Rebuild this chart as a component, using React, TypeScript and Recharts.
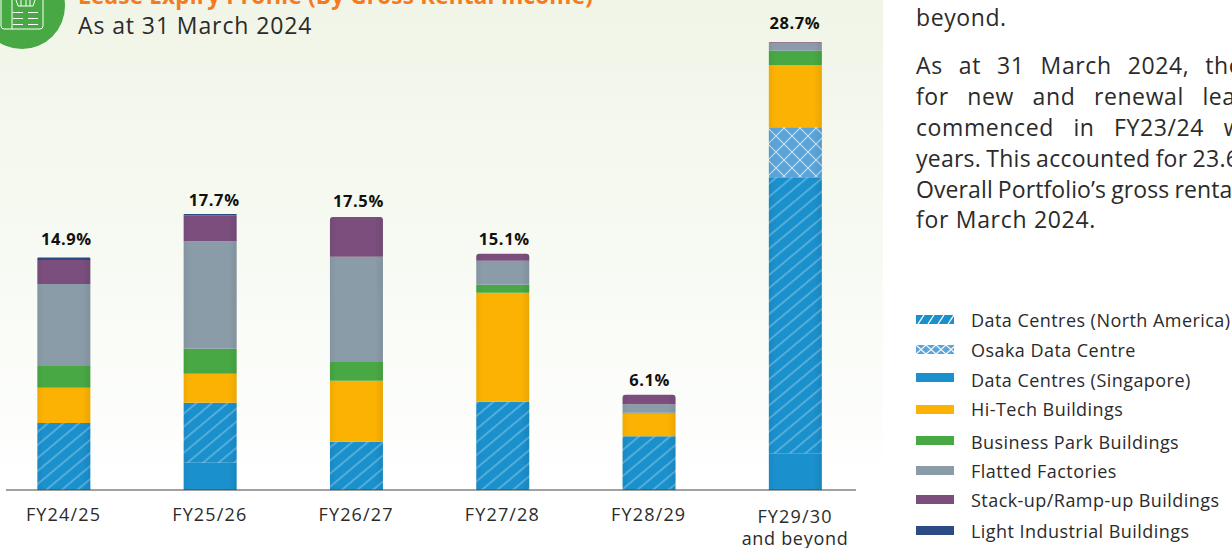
import React from "react";
import { BarChart, Bar, XAxis, YAxis, Rectangle, Legend } from "recharts";

const categories = ["FY24/25", "FY25/26", "FY26/27", "FY27/28", "FY28/29", "FY29/30"];
const totals = [14.9, 17.7, 17.5, 15.1, 6.1, 28.7];
const singapore = [0, 1.75, 0, 0, 0, 2.35];
const northAmerica = [4.3, 3.85, 3.1, 5.65, 3.45, 17.7];
const osaka = [0, 0, 0, 0, 0, 3.2];
const hiTech = [2.25, 1.85, 3.9, 7.0, 1.45, 4.0];
const businessPark = [1.4, 1.6, 1.2, 0.5, 0.05, 0.9];
const flatted = [5.25, 6.9, 6.75, 1.55, 0.55, 0.5];
const stackUp = [1.55, 1.65, 2.55, 0.45, 0.6, 0.05];
const lightIndustrial = [0.15, 0.1, 0, 0, 0, 0];

const labelGap = [12.5, 7.5, 9.5, 8.5, 8.5, 13.5];
const labelShift = [2.5, 4, 2, 1.5, 0.5, -0.5];

const seriesDefs = [
  { key: "singapore", values: singapore, fill: "#1a90cd", legend: "Data Centres (Singapore)", swatch: "#1a90cd" },
  { key: "northAmerica", values: northAmerica, fill: "url(#hatch)", legend: "Data Centres (North America)", swatch: "url(#hatchSw)" },
  { key: "osaka", values: osaka, fill: "url(#cross)", legend: "Osaka Data Centre", swatch: "url(#crossSw)" },
  { key: "hiTech", values: hiTech, fill: "#fbb202", legend: "Hi-Tech Buildings", swatch: "#fbb202" },
  { key: "businessPark", values: businessPark, fill: "#48a843", legend: "Business Park Buildings", swatch: "#48a843" },
  { key: "flatted", values: flatted, fill: "#8a9ca8", legend: "Flatted Factories", swatch: "#8a9ca8" },
  { key: "stackUp", values: stackUp, fill: "#7b4e7d", legend: "Stack-up/Ramp-up Buildings", swatch: "#7b4e7d" },
  { key: "lightIndustrial", values: lightIndustrial, fill: "#2c4a83", legend: "Light Industrial Buildings", swatch: "#2c4a83" },
];

const legendOrder = ["northAmerica", "osaka", "singapore", "hiTech", "businessPark", "flatted", "stackUp", "lightIndustrial"];
const legendTextY = [320, 350, 380, 409, 442, 471, 500, 531];
const legendSwatchY = [319.5, 349.5, 377.5, 409, 440, 470.5, 499, 530];

const paragraph = [
  { text: "As at 31 March 2024, the", y: 74, spacing: 0.6, word: 9.5 },
  { text: "for new and renewal leas", y: 105, spacing: 0.6, word: 12 },
  { text: "commenced in FY23/24 w", y: 136, spacing: 0.6, word: 13 },
  { text: "years. This accounted for 23.6", y: 167, spacing: 0.25, word: -1 },
  { text: "Overall Portfolio\u2019s gross renta", y: 198, spacing: 0.1, word: -1 },
  { text: "for March 2024.", y: 228, spacing: 0.7, word: 0 },
];

const data = categories.map((name, i) => {
  const row: any = { name, total: totals[i], gap: labelGap[i], shift: labelShift[i] };
  seriesDefs.forEach((s) => (row[s.key] = s.values[i]));
  return row;
});

const FONT = "'Open Sans', sans-serif";

const topKeyOf = (row: any) => {
  let top = "";
  seriesDefs.forEach((s) => {
    if (row[s.key] > 0) top = s.key;
  });
  return top;
};

const segment = (key: string, fill: string) => (props: any) => {
  const { x, y, width, height, payload } = props;
  if (!height || height <= 0) return <g />;
  const isTop = topKeyOf(payload) === key;
  const r: any = isTop ? [Math.min(3, height), Math.min(3, height), 0, 0] : 0;
  return (
    <g>
      <Rectangle x={x} y={y} width={width} height={height} fill={fill} radius={r} />
      <Rectangle x={x} y={y} width={width} height={height} fill="url(#edge)" radius={r} />
      {isTop && (
        <text x={x + width / 2 + payload.shift} y={y - payload.gap} textAnchor="middle" fontFamily={FONT} fontSize={16.5} fontWeight={700} letterSpacing={0.6} fill="#111">
          {payload.total.toFixed(1)}%
        </text>
      )}
    </g>
  );
};

const TwoLineTick = (props: any) => {
  const { x, payload } = props;
  const last = payload.value === "FY29/30";
  return (
    <g fontFamily={FONT} fontSize={18} fill="#2b2b2b" textAnchor="middle">
      <text x={x} y={last ? 523 : 521} letterSpacing={1.15}>{payload.value}</text>
      {last && <text x={x} y={544.5} letterSpacing={0.7}>and beyond</text>}
    </g>
  );
};

const LegendBox = () => (
  <div style={{ position: "absolute", left: 0, top: 0 }}>
    {legendOrder.map((k, i) => {
      const s = seriesDefs.find((d) => d.key === k)!;
      return (
        <React.Fragment key={k}>
          <svg width={38} height={9} style={{ position: "absolute", left: 916, top: legendSwatchY[i] - 4.5 }}>
            <rect width={38} height={9} fill={s.swatch} />
          </svg>
          <span style={{ position: "absolute", left: 971, top: legendTextY[i] - 13, lineHeight: "26px", whiteSpace: "nowrap", fontFamily: FONT, fontSize: 18, letterSpacing: 0.45, color: "#2b2b2b" }}>{s.legend}</span>
        </React.Fragment>
      );
    })}
  </div>
);

export default function App() {
  return (
    <div style={{ position: "absolute", left: 0, top: 0, width: 1232, height: 548, overflow: "hidden", background: "#fff" }}>
      <BarChart width={1232} height={548} data={data} margin={{ top: 0, left: 6, right: 376, bottom: 28 }} barSize={53}>
        <defs>
          <linearGradient id="bg" x1="0" y1="0" x2="0" y2="1">
            <stop offset="0" stopColor="#f1f5e7" />
            <stop offset="0.4" stopColor="#f5f9f0" />
            <stop offset="1" stopColor="#ffffff" />
          </linearGradient>
          <linearGradient id="edge" x1="0" y1="0" x2="1" y2="0">
            <stop offset="0" stopColor="#000" stopOpacity="0.05" />
            <stop offset="0.12" stopColor="#000" stopOpacity="0" />
            <stop offset="0.85" stopColor="#000" stopOpacity="0" />
            <stop offset="1" stopColor="#000" stopOpacity="0.07" />
          </linearGradient>
          <pattern id="hatch" width="10" height="10" patternUnits="userSpaceOnUse" patternTransform="rotate(-40)">
            <rect width="10" height="10" fill="#1a90cd" />
            <path d="M0 5 H10" stroke="#9ccfeb" strokeWidth="0.9" />
          </pattern>
          <pattern id="cross" width="16" height="16" patternUnits="userSpaceOnUse">
            <rect width="16" height="16" fill="#5ba4d8" />
            <path d="M0 0 L16 16 M16 0 L0 16" stroke="#c5dff0" strokeWidth="1.2" />
          </pattern>
          <pattern id="hatchSw" width="10" height="9" patternUnits="userSpaceOnUse">
            <rect width="10" height="9" fill="#1a90cd" />
            <path d="M2 9 L8 0" stroke="#fff" strokeWidth="1.3" />
          </pattern>
          <pattern id="crossSw" width="10" height="9" patternUnits="userSpaceOnUse">
            <rect width="10" height="9" fill="#5ba4d8" />
            <path d="M0 0 L10 9 M10 0 L0 9" stroke="#fff" strokeWidth="1.2" />
          </pattern>
        </defs>
        <rect x={0} y={0} width={883} height={490} fill="url(#bg)" />
        <circle cx={22} cy={6} r={43} fill="#48a843" />
        <g fill="none" stroke="#fff" strokeWidth={1}>
          <path d="M12 -2 V29 H40 a3 3 0 0 0 3 -3 V-2" />
          <path d="M1 -2 V26 a3 3 0 0 0 3 3 H12" />
          <path d="M13 12.5 H23 M28 12.5 H38 M13 18.5 H23 M28 18.5 H38 M13 24.5 H23 M28 24.5 H38" />
          <path d="M16 0 L18 6 H33 L35 0 M21 0 V6 M26 0 V6 M30 0 V6" />
        </g>
        <text x={78} y={4} fontFamily={FONT} fontSize={22.5} letterSpacing={0.22} fontWeight={700} fill="#f47b20">Lease Expiry Profile (By Gross Rental Income)</text>
        <text x={78} y={34} fontFamily={FONT} fontSize={23} letterSpacing={0.9} fill="#2b2b2b">As at 31 March 2024</text>
        {paragraph.map((p) => (
          <text key={p.y} x={916} y={p.y} fontFamily={FONT} fontSize={23} letterSpacing={p.spacing} wordSpacing={p.word} fill="#2b2b2b">{p.text}</text>
        ))}
        <text x={916} y={25.5} fontFamily={FONT} fontSize={23} letterSpacing={0.6} fill="#2b2b2b">beyond.</text>
        <XAxis
          dataKey="name"
          scale="point"
          height={30}
          padding={{ left: 57.5, right: 61 }}
          axisLine={{ stroke: "#444", strokeWidth: 1.2 }}
          tickLine={false}
          interval={0}
          tick={<TwoLineTick />}
        />
        <YAxis hide domain={[0, 31.41]} />
        {seriesDefs.map((s) => (
          <Bar key={s.key} dataKey={s.key} stackId="a" fill={s.fill} isAnimationActive={false} shape={segment(s.key, s.fill)} />
        ))}
        <Legend content={<LegendBox />} wrapperStyle={{ position: "absolute", left: 0, top: 0, width: 0, height: 0 }} />
      </BarChart>
    </div>
  );
}
